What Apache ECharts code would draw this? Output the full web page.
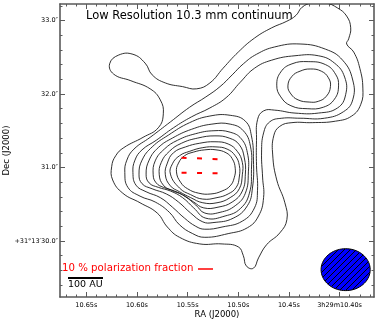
<!DOCTYPE html>
<html>
<head>
<meta charset="utf-8">
<script src="https://cdn.jsdelivr.net/npm/echarts@6/dist/echarts.min.js"></script>
<style>
html, body { margin: 0; padding: 0; background: #fff; }
#chart { width: 382px; height: 324px; }
</style>
</head>
<body>
<div id="chart"></div>
<script>
// x: RA seconds after 3h29m, y: Dec arcsec after +31°13'
const raTicks = [10.40, 10.45, 10.50, 10.55, 10.60, 10.65]
const raLabels = ['3h29m10.40s', '10.45s', '10.50s', '10.55s', '10.60s', '10.65s']
const decTicks = [30.0, 31.0, 32.0, 33.0]
const decLabels = ['+31°13′30.0″', '31.0″', '32.0″', '33.0″']

// contour levels, outermost first
const ring1 = [[10.555,32.10],[10.541,32.07],[10.528,32.15],[10.515,32.35],[10.500,32.57],[10.484,32.76],[10.467,32.90],[10.452,32.99],[10.443,33.07],[10.437,33.18],[10.427,33.24],[10.414,33.24],[10.402,33.17],[10.393,33.06],[10.389,32.90],[10.391,32.75],[10.393,32.68],[10.386,32.57],[10.380,32.35],[10.377,32.08],[10.379,31.86],[10.388,31.70],[10.404,31.63],[10.427,31.61],[10.447,31.61],[10.459,31.56],[10.465,31.43],[10.466,31.17],[10.462,30.83],[10.454,30.52],[10.452,30.29],[10.459,30.11],[10.472,29.95],[10.480,29.77],[10.485,29.63],[10.492,29.66],[10.495,29.80],[10.500,29.92],[10.516,29.96],[10.538,29.96],[10.558,30.05],[10.570,30.19],[10.580,30.38],[10.597,30.52],[10.614,30.65],[10.624,30.83],[10.625,31.01],[10.621,31.16],[10.613,31.27],[10.594,31.41],[10.579,31.54],[10.574,31.73],[10.577,31.92],[10.587,32.07],[10.606,32.18],[10.623,32.27],[10.627,32.41],[10.618,32.53],[10.604,32.54],[10.592,32.42],[10.585,32.26],[10.572,32.15]]
const ring2 = [[10.612,30.93],[10.610,31.10],[10.603,31.25],[10.587,31.41],[10.567,31.62],[10.548,31.82],[10.532,31.96],[10.518,32.10],[10.506,32.26],[10.495,32.41],[10.482,32.54],[10.464,32.64],[10.439,32.68],[10.414,32.61],[10.397,32.46],[10.387,32.19],[10.387,31.92],[10.396,31.76],[10.415,31.67],[10.439,31.67],[10.457,31.67],[10.469,31.62],[10.475,31.47],[10.477,31.21],[10.476,30.87],[10.475,30.59],[10.480,30.34],[10.491,30.18],[10.510,30.10],[10.533,30.05],[10.545,30.10],[10.558,30.22],[10.568,30.39],[10.582,30.53],[10.597,30.61],[10.609,30.73]]
const ring3 = [[10.604,30.93],[10.602,31.10],[10.595,31.24],[10.581,31.37],[10.564,31.54],[10.546,31.69],[10.528,31.81],[10.512,31.95],[10.498,32.16],[10.484,32.35],[10.467,32.46],[10.444,32.52],[10.421,32.52],[10.405,32.42],[10.395,32.23],[10.394,31.99],[10.402,31.81],[10.421,31.74],[10.444,31.74],[10.464,31.78],[10.475,31.77],[10.481,31.65],[10.482,31.37],[10.482,31.03],[10.481,30.69],[10.484,30.45],[10.496,30.27],[10.516,30.19],[10.533,30.16],[10.542,30.20],[10.553,30.31],[10.565,30.46],[10.577,30.59],[10.591,30.67],[10.601,30.76]]
const ring4 = [[10.598,30.91],[10.595,31.10],[10.585,31.28],[10.569,31.44],[10.548,31.61],[10.528,31.70],[10.508,31.71],[10.493,31.63],[10.487,31.43],[10.485,31.10],[10.486,30.72],[10.491,30.48],[10.505,30.31],[10.525,30.25],[10.535,30.26],[10.547,30.38],[10.559,30.53],[10.571,30.64],[10.585,30.71],[10.595,30.78]]
const ring5 = [[10.591,30.91],[10.588,31.10],[10.579,31.27],[10.565,31.40],[10.546,31.52],[10.526,31.59],[10.508,31.59],[10.495,31.50],[10.488,31.29],[10.487,30.97],[10.489,30.65],[10.498,30.44],[10.513,30.34],[10.532,30.31],[10.544,30.45],[10.555,30.59],[10.567,30.68],[10.579,30.73],[10.588,30.79]]
const ring6 = [[10.584,30.90],[10.582,31.09],[10.573,31.25],[10.560,31.37],[10.542,31.46],[10.524,31.50],[10.508,31.48],[10.497,31.39],[10.491,31.20],[10.490,30.94],[10.493,30.65],[10.503,30.48],[10.518,30.39],[10.533,30.38],[10.542,30.49],[10.552,30.60],[10.563,30.68],[10.574,30.73],[10.581,30.79]]
const ring7 = [[10.578,30.90],[10.576,31.07],[10.568,31.22],[10.556,31.33],[10.540,31.40],[10.523,31.43],[10.509,31.40],[10.499,31.31],[10.494,31.13],[10.493,30.91],[10.496,30.68],[10.506,30.53],[10.520,30.46],[10.534,30.45],[10.544,30.53],[10.555,30.63],[10.566,30.69],[10.574,30.76]]
const ring8 = [[10.572,30.90],[10.570,31.06],[10.564,31.20],[10.552,31.28],[10.538,31.33],[10.523,31.35],[10.510,31.32],[10.501,31.22],[10.496,31.07],[10.496,30.90],[10.499,30.71],[10.508,30.59],[10.521,30.52],[10.535,30.52],[10.547,30.59],[10.558,30.67],[10.567,30.75]]
const ring9 = [[10.567,30.91],[10.565,31.05],[10.558,31.16],[10.548,31.22],[10.535,31.27],[10.522,31.28],[10.511,31.25],[10.503,31.16],[10.499,31.03],[10.499,30.87],[10.502,30.73],[10.510,30.64],[10.521,30.59],[10.535,30.57],[10.547,30.63],[10.558,30.72]]
const ring10 = [[10.561,30.94],[10.559,31.06],[10.553,31.16],[10.544,31.21],[10.533,31.24],[10.522,31.24],[10.512,31.20],[10.506,31.12],[10.503,30.99],[10.504,30.86],[10.508,30.75],[10.516,30.68],[10.527,30.64],[10.539,30.65],[10.550,30.71],[10.557,30.80]]
// second peak (north-west)
const peak2Ring4 = [[10.462,32.12],[10.458,32.30],[10.447,32.41],[10.431,32.44],[10.414,32.40],[10.404,32.27],[10.401,32.11],[10.405,31.93],[10.416,31.82],[10.432,31.80],[10.448,31.84],[10.458,31.96]]
const peak2Ring5 = [[10.451,32.11],[10.447,32.24],[10.439,32.31],[10.429,32.34],[10.418,32.31],[10.411,32.22],[10.409,32.10],[10.413,31.97],[10.421,31.90],[10.430,31.89],[10.441,31.92],[10.448,32.00]]

// polarization segments [ra1, dec1, ra2, dec2]
const polVectors = [[10.556, 31.132, 10.520, 31.113], [10.556, 30.928, 10.520, 30.922]]
// beam [ra centre, dec centre, major (s of RA), minor (arcsec)]
const beam = [[10.394, 29.61, 0.0485, 0.57]]

const contours = [ring1, ring2, ring3, ring4, ring5, ring6, ring7, ring8, ring9, ring10, peak2Ring4, peak2Ring5]

const raMin = 10.366, raMax = 10.676
const decMin = 29.238, decMax = 33.224
const font = 'DejaVu Sans'
const frameColor = '#5a5a5a'

const raMinor = []
for (let i = 37; i <= 67; i++) raMinor.push(10 + i / 100)
const decMinor = []
for (let i = 147; i <= 166; i++) decMinor.push(Math.round(i * 2) / 10)

function pick(ticks, labels, v) {
  let best = 0
  for (let i = 0; i < ticks.length; i++) {
    if (Math.abs(ticks[i] - v) < Math.abs(ticks[best] - v)) best = i
  }
  return labels[best]
}

function hatchPattern() {
  const c = document.createElement('canvas')
  c.width = 6
  c.height = 6
  const g = c.getContext('2d')
  g.fillStyle = '#0000ff'
  g.fillRect(0, 0, 6, 6)
  g.strokeStyle = '#000'
  g.lineWidth = 1
  g.beginPath()
  g.moveTo(-1, 7); g.lineTo(7, -1)
  g.moveTo(-1, 1); g.lineTo(1, -1)
  g.moveTo(5, 7); g.lineTo(7, 5)
  g.stroke()
  return { image: c, repeat: 'repeat' }
}
const hatch = hatchPattern()

function xAx(position, ticks, len, showLine, showLabel) {
  return {
    type: 'value', position: position, inverse: true, min: raMin, max: raMax,
    axisLine: { show: showLine, onZero: false, lineStyle: { color: frameColor, width: 1.6 } },
    axisTick: { show: true, inside: true, length: len, customValues: ticks, lineStyle: { color: frameColor, width: 1 } },
    axisLabel: showLabel ? {
      show: true, customValues: ticks, margin: 5, fontSize: 6.5, fontFamily: font, color: '#000',
      formatter: v => pick(raTicks, raLabels, v)
    } : { show: false },
    splitLine: { show: false }
  }
}

function yAx(position, ticks, len, showLine, showLabel) {
  return {
    type: 'value', position: position, min: decMin, max: decMax,
    axisLine: { show: showLine, onZero: false, lineStyle: { color: frameColor, width: 1.6 } },
    axisTick: { show: true, inside: true, length: len, customValues: ticks, lineStyle: { color: frameColor, width: 1 } },
    axisLabel: showLabel ? {
      show: true, customValues: ticks, margin: 2, fontSize: 6.5, fontFamily: font, color: '#000',
      formatter: v => pick(decTicks, decLabels, v)
    } : { show: false },
    splitLine: { show: false }
  }
}

const chart = echarts.init(document.getElementById('chart'), null, { renderer: 'canvas' })

const xBottom = xAx('bottom', raTicks, 5, true, true)
xBottom.name = 'RA (J2000)'
xBottom.nameLocation = 'middle'
xBottom.nameGap = 13
xBottom.nameMoveOverlap = false
xBottom.nameTextStyle = { fontSize: 8.5, fontFamily: font, color: '#000', verticalAlign: 'top' }

const yLeft = yAx('left', decTicks, 5, true, true)
yLeft.name = 'Dec (J2000)'
yLeft.nameLocation = 'middle'
yLeft.nameGap = 49
yLeft.nameMoveOverlap = false
yLeft.nameTextStyle = { fontSize: 8.5, fontFamily: font, color: '#000' }

const option = {
  animation: false,
  backgroundColor: '#fff',
  grid: { left: 60, top: 4, width: 314, height: 293, containLabel: false, outerBoundsMode: 'none' },
  xAxis: [
    xBottom,
    xAx('bottom', raMinor, 2.5, false, false),
    xAx('top', raTicks, 5, true, false),
    xAx('top', raMinor, 2.5, false, false)
  ],
  yAxis: [
    yLeft,
    yAx('left', decMinor, 2.5, false, false),
    yAx('right', decTicks, 5, true, false),
    yAx('right', decMinor, 2.5, false, false)
  ],
  graphic: [
    { type: 'text', left: 86, top: 10, style: { text: 'Low Resolution 10.3 mm continuum', fontSize: 11.5, fontFamily: font, fill: '#000' } },
    { type: 'text', left: 62, top: 263, style: { text: '10 % polarization fraction', fontSize: 10.2, fontFamily: font, fill: '#ff0000' } },
    { type: 'line', shape: { x1: 198, y1: 269, x2: 213, y2: 269 }, style: { stroke: '#ff0000', lineWidth: 1.5 } },
    { type: 'line', shape: { x1: 68, y1: 278, x2: 103, y2: 278 }, style: { stroke: '#000', lineWidth: 2 } },
    { type: 'text', left: 68, top: 280, style: { text: '100 AU', fontSize: 9.5, fontFamily: font, fill: '#000' } }
  ],
  series: [
    {
      type: 'custom',
      coordinateSystem: 'cartesian2d',
      xAxisIndex: 0,
      yAxisIndex: 0,
      clip: true,
      silent: true,
      data: contours.map(c => c[0]),
      renderItem: (params, api) => {
        const pts = contours[params.dataIndex].map(p => api.coord(p))
        return {
          type: 'polygon',
          shape: { points: pts, smooth: 0.45 },
          style: { fill: 'none', stroke: '#1a1a1a', lineWidth: 0.9 }
        }
      }
    },
    {
      type: 'custom',
      coordinateSystem: 'cartesian2d',
      xAxisIndex: 0,
      yAxisIndex: 0,
      silent: true,
      encode: { x: [0, 2], y: [1, 3] },
      data: polVectors,
      renderItem: (params, api) => {
        const a = api.coord([api.value(0), api.value(1)])
        const b = api.coord([api.value(2), api.value(3)])
        return {
          type: 'line',
          shape: { x1: a[0], y1: a[1], x2: b[0], y2: b[1] },
          style: { stroke: '#ff0000', lineWidth: 2, lineDash: [5, 10.5] }
        }
      }
    },
    {
      type: 'custom',
      coordinateSystem: 'cartesian2d',
      xAxisIndex: 0,
      yAxisIndex: 0,
      silent: true,
      z: 5,
      data: beam,
      renderItem: (params, api) => {
        const c = api.coord([api.value(0), api.value(1)])
        const s = api.size([api.value(2), api.value(3)])
        const rx = s[0] / 2, ry = s[1] / 2
        const pts = []
        for (let k = 0; k < 72; k++) {
          const t = k / 72 * Math.PI * 2
          pts.push([c[0] + rx * Math.cos(t), c[1] + ry * Math.sin(t)])
        }
        return {
          type: 'polygon',
          shape: { points: pts },
          style: { fill: hatch, stroke: '#000', lineWidth: 1 }
        }
      }
    }
  ]
}

chart.setOption(option)
</script>
</body>
</html>
